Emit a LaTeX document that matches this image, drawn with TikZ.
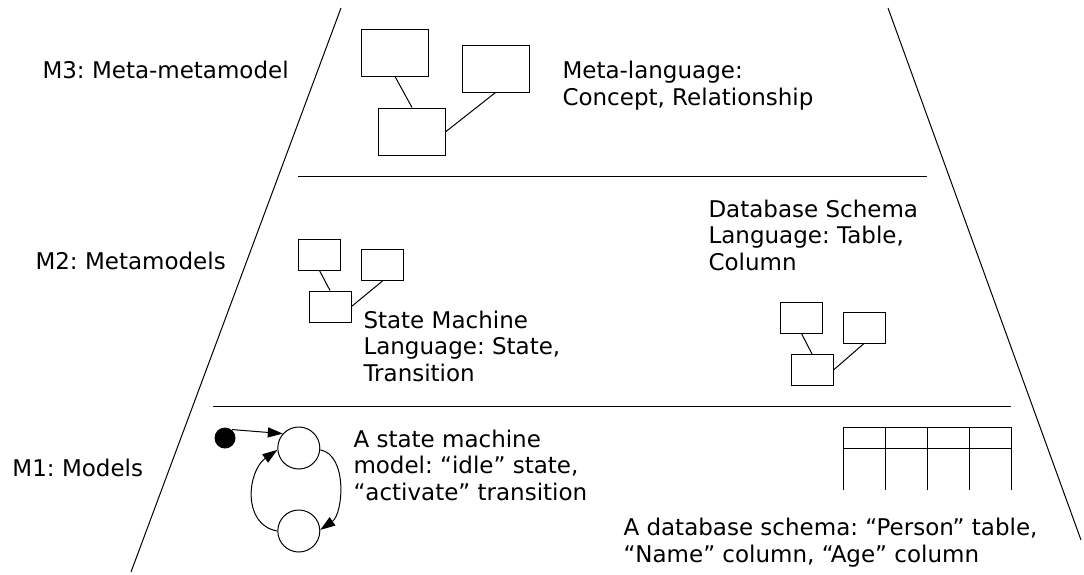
\documentclass[tikz,border=0pt]{standalone}
\usepackage{fontspec}
\setmainfont{DejaVu Sans}
\frenchspacing
\usetikzlibrary{arrows.meta,positioning}

\begin{document}
\begin{tikzpicture}[
    x=1pt, y=1pt,
    line width=1pt,
    every node/.style={font=\fontsize{23}{26.5}\selectfont},
    levelname/.style={anchor=base west, inner sep=0pt},
    note/.style={anchor=base west, align=left, inner sep=0pt},
    box/.style={draw, inner sep=0pt},
    bigbox/.style={box, minimum width=67pt, minimum height=47pt},
    smallbox/.style={box, minimum width=42pt, minimum height=31pt},
    state/.style={draw, circle, minimum size=42pt, inner sep=0pt},
    startdot/.style={fill, circle, minimum size=21pt, inner sep=0pt},
    arrow/.style={-{Triangle[length=15pt, width=10pt]}}
]
\useasboundingbox (0,0) rectangle (1084,-574);

% Pyramid outline and level separators
\coordinate (topleft) at (341,-8);
\coordinate (botleft) at (131,-572);
\coordinate (topright) at (888,-8);
\coordinate (botright) at (1081,-540);
\coordinate (sepAleft) at (298,-176);
\coordinate (sepAright) at (927,-176);
\coordinate (sepBleft) at (213,-406);
\coordinate (sepBright) at (1011,-406);
\draw (topleft) -- (botleft);
\draw (topright) -- (botright);
\draw (sepAleft) -- (sepAright);
\draw (sepBleft) -- (sepBright);

% Level names
\node[levelname] (mthree) at (42,-78) {M3: Meta-metamodel};
\node[levelname] (mtwo) at (35,-269) {M2: Metamodels};
\node[levelname] (mone) at (12,-476) {M1: Models};

% M3 Layer Components (note text is placed by its last baseline)
\node[bigbox] (metaA) at (395,-52.5) {};
\node[bigbox] (metaB) at (495.5,-68.5) {};
\node[bigbox] (metaC) at (412,-131.5) {};
\draw (metaA.south) -- (metaC.north);
\draw (metaB.south) -- (metaC.east);
\node[note] (metalang) at (562,-105) {Meta-language:\\Concept, Relationship};

% M2 Layer Components
\node[smallbox] (smA) at (319.5,-254.5) {};
\node[smallbox] (smB) at (382.5,-265) {};
\node[smallbox] (smC) at (330,-306.5) {};
\draw (smA.south) -- (smC.north);
\draw (smB.south) -- (smC.east);
\node[note] (smlang) at (363,-381) {State Machine\\Language: State,\\Transition};

\node[smallbox] (dbA) at (801.5,-317.5) {};
\node[smallbox] (dbB) at (864,-327.5) {};
\node[smallbox] (dbC) at (812,-370) {};
\draw (dbA.south) -- (dbC.north);
\draw (dbB.south) -- (dbC.east);
\node[note] (dblang) at (708,-270) {Database Schema\\Language: Table,\\Column};

% M1 Layer Components
\node[startdot] (start) at (225,-438) {};
\node[state] (idle) at (298.8,-448) {};
\node[state] (active) at (298.8,-531) {};
\draw[arrow] (start.50) -- (idle.138);
\draw[arrow] (idle.-5) to[out=-10, in=35, looseness=0.9] (active.3);
\draw[arrow] (active.180) to[out=170, in=215, looseness=1.15] (idle.185);
\node[note] (smmodel) at (353,-500) {A state machine\\model: “idle” state,\\“activate” transition};

% Table sketch
\coordinate (table) at (843,-427);
\draw (table) -- ++(168,0);
\draw (table) ++(0,-21) -- ++(168,0);
\foreach \col in {0,...,4}
    \draw (table) ++(42*\col,0) -- ++(0,-63);
\node[note] (dbmodel) at (623,-562) {A database schema: “Person” table,\\“Name” column, “Age” column};

\end{tikzpicture}
\end{document}
